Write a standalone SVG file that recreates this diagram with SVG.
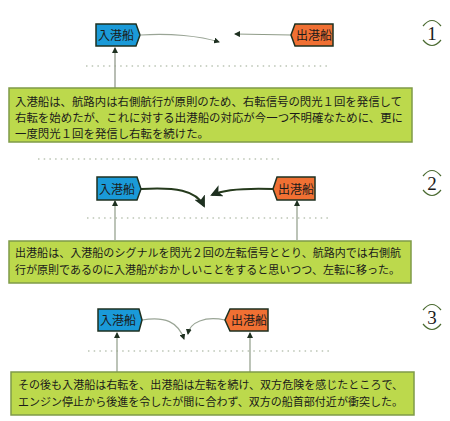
<svg xmlns="http://www.w3.org/2000/svg" width="450" height="421" viewBox="0 0 450 421">
<defs>
<style>
.bg{fill:#ffffff}
.inb{fill:#1a9ad8;stroke:#1e3020;stroke-width:1.5}
.outb{fill:#f07033;stroke:#1e3020;stroke-width:1.5}
.nt{font-family:"Noto Sans CJK JP","Noto Sans",sans-serif;font-size:12px;fill:#1a1a1a;text-anchor:middle}
.note{fill:#bcd94c;stroke:#7f9a48;stroke-width:1.5}
.tt{font-family:"Noto Sans CJK JP","Noto Sans",sans-serif;fill:#1a1a1a}
.thin{fill:none;stroke:#9aa596;stroke-width:1.2}
.thick{fill:none;stroke:#253a1c;stroke-width:2}
.lead{fill:none;stroke:#8f9c88;stroke-width:1.2}
.dot{fill:none;stroke:#9aa890;stroke-width:1.2;stroke-dasharray:1.5 4.2}
.circ{fill:none;stroke:#4a6a30;stroke-width:1.2}
.num{font-family:"Liberation Serif",serif;font-size:19px;fill:#1a1a1a;text-anchor:middle}
</style>
<marker id="sm" markerWidth="6" markerHeight="6" refX="5" refY="3" orient="auto" markerUnits="userSpaceOnUse">
<path d="M0,0 L6,3 L0,6 z" fill="#1e3020"/>
</marker>
<marker id="bg" markerWidth="12" markerHeight="12" refX="10" refY="6" orient="auto" markerUnits="userSpaceOnUse">
<path d="M0,0 L12,6 L0,12 L3,6 z" fill="#1e3020"/>
</marker>
</defs>
<rect class="bg" x="0" y="0" width="450" height="421"/>

<g id="connectors">
<path class="thin" d="M141,35 C170,33 200,36 219,42" marker-end="url(#sm)"/>
<path class="lead" d="M291,35 L235,34" marker-end="url(#sm)"/>
<path d="M115,88 L115,48" fill="none" stroke="#b8bdb4" stroke-width="2" marker-end="url(#sm)"/>
<path class="dot" d="M86,66 L330,66"/>
<path class="dot" d="M38,159 L283,159"/>
<path class="thick" d="M141,189 C175,187 196,190 204,206" marker-end="url(#bg)"/>
<path class="thick" d="M273,189 C245,188 225,189 212,195" marker-end="url(#bg)"/>
<path class="lead" d="M115,240 L115,201" marker-end="url(#sm)"/>
<path class="lead" d="M297,240 L297,201" marker-end="url(#sm)"/>
<path class="dot" d="M87,218 L332,218"/>
<path class="thin" d="M142,320 C165,316 178,322 184,339" marker-end="url(#sm)"/>
<path class="thin" d="M225,320 C205,316 190,322 188,334" marker-end="url(#sm)"/>
<path class="lead" d="M117,372 L117,333" marker-end="url(#sm)"/>
<path class="lead" d="M250,372 L250,333" marker-end="url(#sm)"/>
<path class="dot" d="M88,351 L333,351"/>
</g>

<g id="p1-in">
<polygon class="inb" points="96,24 136,24 140,35 136,46 96,46"/>
<text class="nt" x="116" y="39.5">入港船</text>
</g>
<g id="p1-out">
<polygon class="outb" points="295,24 333,24 333,46 295,46 291,35"/>
<text class="nt" x="314" y="39.5">出港船</text>
</g>
<g id="p1-num">
<path class="circ" d="M423,26 Q432,15 441,26"/>
<path class="circ" d="M423,40 Q432,51 441,40"/>
<text class="num" x="432" y="40">1</text>
</g>
<g id="p1-note">
<rect class="note" x="9" y="88" width="403" height="54"/>
<text class="tt" font-size="11.4" x="15" y="106" textLength="387" lengthAdjust="spacing">入港船は、航路内は右側航行が原則のため、右転信号の閃光１回を発信して</text>
<text class="tt" font-size="11.4" x="15" y="122" textLength="388" lengthAdjust="spacing">右転を始めたが、これに対する出港船の対応が今一つ不明確なために、更に</text>
<text class="tt" font-size="11.4" x="15" y="138" textLength="194" lengthAdjust="spacing">一度閃光１回を発信し右転を続けた。</text>
</g>

<g id="p2-in">
<polygon class="inb" points="97,177 137,177 141,189 137,200 97,200"/>
<text class="nt" x="117" y="193.5">入港船</text>
</g>
<g id="p2-out">
<polygon class="outb" points="277,177 315,177 315,200 277,200 273,189"/>
<text class="nt" x="296" y="193.5">出港船</text>
</g>
<g id="p2-num">
<path class="circ" d="M423,176 Q432,165 441,176"/>
<path class="circ" d="M423,190 Q432,201 441,190"/>
<text class="num" x="432" y="190">2</text>
</g>
<g id="p2-note">
<rect class="note" x="9" y="241" width="402" height="42"/>
<text class="tt" font-size="11" x="15" y="257" textLength="386" lengthAdjust="spacing">出港船は、入港船のシグナルを閃光２回の左転信号ととり、航路内では右側航</text>
<text class="tt" font-size="11" x="15" y="274" textLength="385" lengthAdjust="spacing">行が原則であるのに入港船がおかしいことをすると思いつつ、左転に移った。</text>
</g>

<g id="p3-in">
<polygon class="inb" points="98,309 139,309 142,320 139,331 98,331"/>
<text class="nt" x="118" y="324.5">入港船</text>
</g>
<g id="p3-out">
<polygon class="outb" points="230,309 268,309 268,331 230,331 225,320"/>
<text class="nt" x="249" y="324.5">出港船</text>
</g>
<g id="p3-num">
<path class="circ" d="M423,310 Q432,299 441,310"/>
<path class="circ" d="M423,324 Q432,335 441,324"/>
<text class="num" x="432" y="324">3</text>
</g>
<g id="p3-note">
<rect class="note" x="11" y="372" width="403" height="43"/>
<text class="tt" font-size="11" x="18" y="389" textLength="385" lengthAdjust="spacing">その後も入港船は右転を、出港船は左転を続け、双方危険を感じたところで、</text>
<text class="tt" font-size="11" x="18" y="405.5" textLength="385" lengthAdjust="spacing">エンジン停止から後進を令したが間に合わず、双方の船首部付近が衝突した。</text>
</g>
</svg>
